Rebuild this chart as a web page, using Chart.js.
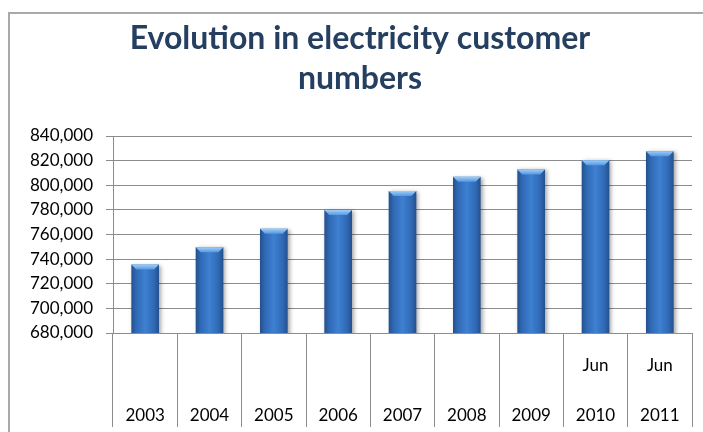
<!DOCTYPE html>
<html>
<head>
<meta charset="utf-8">
<script src="https://cdn.jsdelivr.net/npm/chart.js@4.4.0/dist/chart.umd.min.js"></script>
<style>
  html, body { margin: 0; padding: 0; background: #fff; overflow: hidden; width: 703px; height: 432px; }
  #frame { position: absolute; left: 8px; top: 12px; width: 700px; height: 430px; border: 2px solid #a9a9a9; }
  canvas { display: block; }
</style>
</head>
<body>
<div id="frame"><canvas id="customerChart" width="700" height="430"></canvas></div>
<script>
// Customer numbers per year
const years = ['2003', '2004', '2005', '2006', '2007', '2008', '2009', '2010', '2011'];
const months = ['', '', '', '', '', '', '', 'Jun', 'Jun'];
const customers = [735600, 749600, 764700, 779800, 795300, 806900, 812800, 820300, 827700];
const yMin = 680000;
const yMax = 840000;
const yStep = 20000;

const gridColor = '#8c8c8c';

// Gives each bar a horizontal shade, a soft shadow and a light bevel on top
const barShading = {
    id: 'barShading',
    beforeDatasetsDraw(chart) {
        const ctx = chart.ctx;
        chart.getDatasetMeta(0).data.forEach(bar => {
            const left = bar.x - bar.width / 2;
            const g = ctx.createLinearGradient(left, 0, left + bar.width, 0);
            g.addColorStop(0, '#23508c');
            g.addColorStop(0.18, '#3069b5');
            g.addColorStop(0.5, '#3e80d2');
            g.addColorStop(0.82, '#3069b5');
            g.addColorStop(1, '#23508c');
            bar.options.backgroundColor = g;
        });
        ctx.save();
        ctx.shadowColor = 'rgba(0,0,0,0.35)';
        ctx.shadowBlur = 4;
        ctx.shadowOffsetX = 2;
        ctx.shadowOffsetY = 1;
    },
    afterDatasetsDraw(chart) {
        const ctx = chart.ctx;
        ctx.restore();
        chart.getDatasetMeta(0).data.forEach(bar => {
            const left = bar.x - bar.width / 2;
            const right = bar.x + bar.width / 2;
            const top = bar.y;
            const b = 5;
            const g = ctx.createLinearGradient(0, top, 0, top + b);
            g.addColorStop(0, '#9fcff8');
            g.addColorStop(1, '#5598e2');
            ctx.beginPath();
            ctx.moveTo(left, top);
            ctx.lineTo(right, top);
            ctx.lineTo(right - b, top + b);
            ctx.lineTo(left + b, top + b);
            ctx.closePath();
            ctx.fillStyle = g;
            ctx.fill();
        });
    }
};

const labels = years.map((y, i) => [months[i], y]);

new Chart(document.getElementById('customerChart'), {
    type: 'bar',
    data: {
        labels: labels,
        datasets: [{
            data: customers,
            backgroundColor: () => '#3a78c8',
            borderWidth: 0,
            categoryPercentage: 1,
            barPercentage: 0.43
        }]
    },
    plugins: [barShading],
    options: {
        responsive: false,
        animation: false,
        layout: { padding: { left: 18, right: 18, top: 0, bottom: 0 } },
        plugins: {
            legend: { display: false },
            tooltip: { enabled: false },
            title: {
                display: true,
                text: ['Evolution in electricity customer', 'numbers'],
                color: '#243f60',
                font: { family: 'Lato', size: 32, weight: 'bold', lineHeight: 1.25 },
                padding: { top: 5, bottom: 37 }
            }
        },
        scales: {
            x: {
                offset: true,
                grid: {
                    offset: true,
                    drawOnChartArea: false,
                    drawTicks: true,
                    tickLength: 94,
                    color: gridColor,
                    lineWidth: 1
                },
                border: { display: true, color: gridColor },
                ticks: {
                    color: '#000',
                    font: { family: 'Lato', size: 17, lineHeight: 2.92 },
                    padding: -86,
                    maxRotation: 0,
                    autoSkip: false
                },
                afterFit(scale) { scale.height = 111; }
            },
            y: {
                min: yMin,
                max: yMax,
                grid: { color: gridColor, lineWidth: 1, tickLength: 7 },
                border: { display: true, color: gridColor },
                ticks: {
                    stepSize: yStep,
                    color: '#000',
                    padding: 13,
                    font: { family: 'Lato', size: 17 },
                    callback: v => v.toLocaleString('en-US')
                },
                afterFit(scale) { scale.width = 85; }
            }
        }
    }
});
</script>
</body>
</html>
